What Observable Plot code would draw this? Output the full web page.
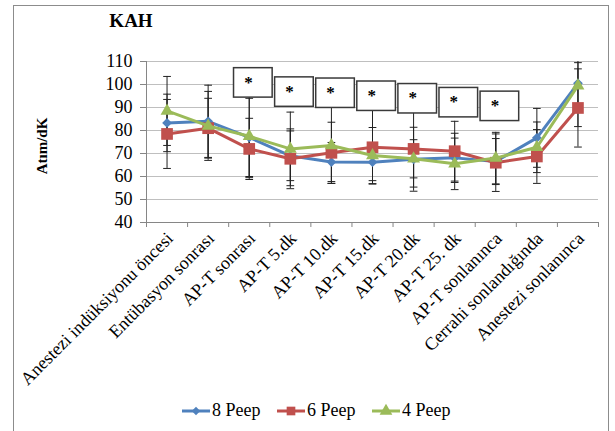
<!DOCTYPE html>
<html>
<head>
<meta charset="utf-8">
<script src="https://cdn.jsdelivr.net/npm/d3@7"></script>
<script src="https://cdn.jsdelivr.net/npm/@observablehq/plot@0.6"></script>
<style>
  body { margin: 0; background: #fff; font-family: "Liberation Serif", "Times New Roman", serif; }
  #page { position: relative; width: 615px; height: 431px; overflow: hidden; font-family: "Liberation Serif", "Times New Roman", serif; }
  #frame { position: absolute; left: 13px; top: 5px; width: 594px; height: 470px; border: 1px solid #8c8c8c; }
  #title { position: relative; height: 40px; box-sizing: border-box; padding-top: 11px; width: 262px; text-align: center; font-weight: bold; font-size: 19px; line-height: 20px; }
  #ylabel { position: absolute; left: 42px; top: 146px; width: 0; height: 0; }
  #ylabel div { position: absolute; left: 0; top: 0; transform: translate(-50%, -50%) rotate(-90deg); white-space: nowrap; font-weight: bold; font-size: 15px; line-height: 15px; font-family: "Liberation Serif", "Times New Roman", serif; }
  #chart { position: relative; height: 352px; }
  #legend { position: relative; height: 39px; font-size: 18px; font-family: "Liberation Serif", "Times New Roman", serif; }
  .entry { position: absolute; top: 0; }
  .entry svg { position: absolute; top: 11px; left: 0; }
  .entry span { position: absolute; left: 31px; top: 10px; line-height: 17px; white-space: nowrap; font-family: "Liberation Serif", "Times New Roman", serif; }
</style>
</head>
<body>
<div id="page">
  <div id="frame"></div>
  <div id="title">KAH</div>
  <div id="chart"></div>
  <div id="legend"></div>
  <div id="ylabel"><div>Atım/dK</div></div>
</div>
<script>
const categories = ["Anestezi indüksiyonu öncesi", "Entübasyon sonrası", "AP-T sonrası", "AP-T 5.dk", "AP-T 10.dk", "AP-T 15.dk", "AP-T 20.dk", "AP-T 25. dk", "AP-T sonlanınca", "Cerrahi sonlandığında", "Anestezi sonlanınca"];
const seriesNames = ["8 Peep", "6 Peep", "4 Peep"];
const peep8 = [83.3, 84.0, 77.0, 69.0, 66.3, 66.2, 67.5, 68.1, 66.5, 76.8, 100.5];
const peep6 = [78.5, 81.0, 72.0, 67.7, 70.3, 72.7, 72.0, 71.0, 66.0, 68.7, 89.8];
const peep4 = [88.5, 82.0, 77.5, 72.0, 73.5, 69.1, 67.7, 65.5, 68.0, 72.7, 99.5];
const sd8 = [12.5, 15.7, 17.0, 10.8, 8.5, 8.0, 13.9, 10.7, 10.0, 12.8, 9.0];
const sd6 = [15.0, 13.0, 13.3, 13.0, 13.3, 16.0, 16.6, 13.0, 12.5, 11.7, 17.0];
const sd4 = [15.0, 15.0, 18.0, 16.0, 16.5, 12.2, 8.3, 11.2, 11.2, 11.0, 17.8];
const yTicks = [40, 50, 60, 70, 80, 90, 100, 110];
// significance boxes ("*"): category indices and top of each box (y value)
const starIndex = [2, 3, 4, 5, 6, 7, 8];
const starBoxTop = [107.1, 103.1, 102.6, 101.3, 100.2, 98.5, 96.9];

const colors = ["#4F81BD", "#C0504D", "#9BBB59"];
const symbols = ["diamond2", "square", "triangle"];
const radii = [4.4, 6.6, 4.8];
const values = [peep8, peep6, peep4];
const sds = [sd8, sd6, sd4];

const series = seriesNames.map((name, s) => values[s].map((v, i) => ({series: name, i, value: v, sd: sds[s][i]})));
const allRows = series.flat();
const boxes = starIndex.map((i, k) => ({i, top: starBoxTop[k]}));
const cx = d => d.i + 0.5;
const capW = 0.094;

const marks = [
  Plot.gridY(yTicks.filter(v => v > 40), {stroke: "#bfbfbf", strokeOpacity: 1}),
  Plot.ruleY([40], {stroke: "#868686"}),
  Plot.ruleX([0], {stroke: "#868686"}),
  Plot.axisY({ticks: yTicks, tickSize: 6, tickPadding: 8, stroke: "#868686", fill: "#000", fontSize: 18, label: null}),
  Plot.axisX({ticks: d3.range(0, 12), tickFormat: () => "", tickSize: 5, stroke: "#868686", label: null}),
  Plot.axisX({ticks: categories.map((_, i) => i + 0.5), tickFormat: d => categories[Math.floor(d)], tickRotate: -45, tickSize: 0, tickPadding: 13, dx: 3, fontSize: 18, fill: "#000", label: null}),
  // error bars
  Plot.ruleX(allRows, {x: cx, y1: d => d.value - d.sd, y2: d => d.value + d.sd, stroke: "#222", strokeWidth: 1, clip: true}),
  Plot.link(allRows, {x1: d => cx(d) - capW, x2: d => cx(d) + capW, y1: d => d.value + d.sd, y2: d => d.value + d.sd, stroke: "#222", strokeWidth: 1, clip: true}),
  Plot.link(allRows, {x1: d => cx(d) - capW, x2: d => cx(d) + capW, y1: d => d.value - d.sd, y2: d => d.value - d.sd, stroke: "#222", strokeWidth: 1, clip: true}),
  // significance boxes
  Plot.rect(boxes, {x1: d => d.i + 0.13, x2: d => d.i + 1.07, y1: d => d.top - 12.8, y2: d => d.top, fill: "#fff", stroke: "#3a3a3a", strokeWidth: 1.5}),
  Plot.text(boxes, {x: d => d.i + 0.48, y: d => d.top, text: () => "*", dy: 14, fontSize: 17, fontWeight: "bold", fill: "#000"})
];
series.forEach((rows, s) => {
  marks.push(Plot.line(rows, {x: cx, y: "value", stroke: colors[s], strokeWidth: 3}));
  marks.push(Plot.dot(rows, {x: cx, y: "value", symbol: symbols[s], r: radii[s], fill: colors[s], stroke: "none"}));
});

const chart = Plot.plot({
  width: 615,
  height: 352,
  marginLeft: 146,
  marginRight: 17,
  marginTop: 21,
  marginBottom: 170,
  style: {fontFamily: "'Liberation Serif', 'Times New Roman', serif", fontSize: "18px", color: "#000", background: "transparent", overflow: "visible"},
  x: {domain: [0, 11], axis: null},
  y: {domain: [40, 110], axis: null},
  marks
});
document.getElementById("chart").appendChild(chart);

// legend
const legend = document.getElementById("legend");
const legendLeft = [181, 276, 371];
const legendSym = [d3.symbolDiamond2, d3.symbolSquare, d3.symbolTriangle];
const legendSize = [45, 75, 70];
seriesNames.forEach((name, s) => {
  const e = document.createElement("div");
  e.className = "entry";
  e.style.left = legendLeft[s] + "px";
  const svg = d3.create("svg").attr("width", 30).attr("height", 16);
  svg.append("line").attr("x1", 1).attr("x2", 29).attr("y1", 8).attr("y2", 8).attr("stroke", colors[s]).attr("stroke-width", 3);
  svg.append("path").attr("d", d3.symbol(legendSym[s], legendSize[s])()).attr("transform", "translate(15,8)").attr("fill", colors[s]);
  e.appendChild(svg.node());
  const t = document.createElement("span");
  t.textContent = name;
  e.appendChild(t);
  legend.appendChild(e);
});
</script>
</body>
</html>
